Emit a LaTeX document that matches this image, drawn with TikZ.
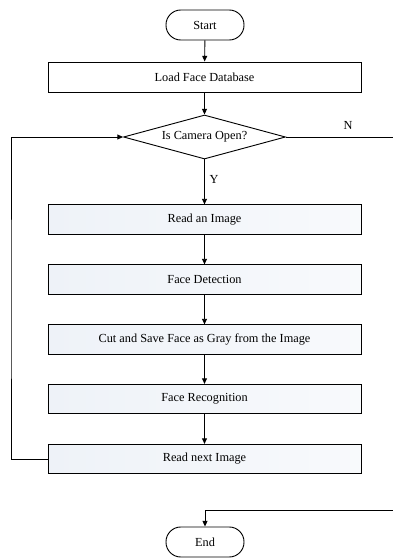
\documentclass[tikz,border=0pt]{standalone}
\usepackage{fontspec}
\setmainfont{Liberation Serif}
\usetikzlibrary{shapes.geometric,arrows.meta}
\definecolor{boxfill}{HTML}{EEF2F8}
\begin{document}
\begin{tikzpicture}[x=0.025cm, y=-0.025cm, font=\fontsize{8.75}{10}\selectfont,
    line width=0.65pt,
    arr/.style={-{Triangle[length=4pt,width=3.5pt]}},
    termbox/.style={draw, rounded corners=0.37cm, minimum width=1.95cm, minimum height=0.75cm, inner sep=0pt},
    stepbox/.style={draw, minimum width=7.825cm, minimum height=0.73cm, inner sep=0pt, left color=boxfill, right color=boxfill!40},
    plainbox/.style={draw, minimum width=7.825cm, minimum height=0.75cm, inner sep=0pt},
    decbox/.style={draw, diamond, shape aspect=3.68, inner sep=0pt, minimum width=4.05cm, minimum height=1.1cm}]
      \useasboundingbox (0,0) rectangle (393,559);

      % Blocos do fluxograma
      \node[termbox] (start) at (205,25) {Start};
      \node[plainbox] (load) at (204.5,77) {Load Face Database};
      \node[decbox] (cam) at (204.5,137) {Is Camera Open?};
      \node[stepbox] (read) at (204.5,219.5) {Read an Image};
      \node[stepbox] (detect) at (204.5,279.5) {Face Detection};
      \node[stepbox] (cut) at (204.5,339.5) {Cut and Save Face as Gray from the Image};
      \node[stepbox] (recog) at (204.5,399) {Face Recognition};
      \node[stepbox] (next) at (204.5,459) {Read next Image};
      \node[termbox] (stop) at (205,542) {End};

      % Pontos auxiliares dos laços
      \coordinate (lft) at (11,300);
      \coordinate (rgt) at (396,510);

      % Setas principais
      \draw[arr] (start) -- (load);
      \draw[arr] (load) -- (cam);
      \draw[arr] (cam) -- node[right, pos=0.45] {Y} (read);
      \draw[arr] (read) -- (detect);
      \draw[arr] (detect) -- (cut);
      \draw[arr] (cut) -- (recog);
      \draw[arr] (recog) -- (next);

      % Laço de volta e saída
      \draw[arr] (next.west) -| (lft) |- (cam.west);
      \draw[arr] (cam.east) -| (rgt) -| (stop.north);
      \node (nlab) at (348,125) {N};

    \end{tikzpicture}
\end{document}
